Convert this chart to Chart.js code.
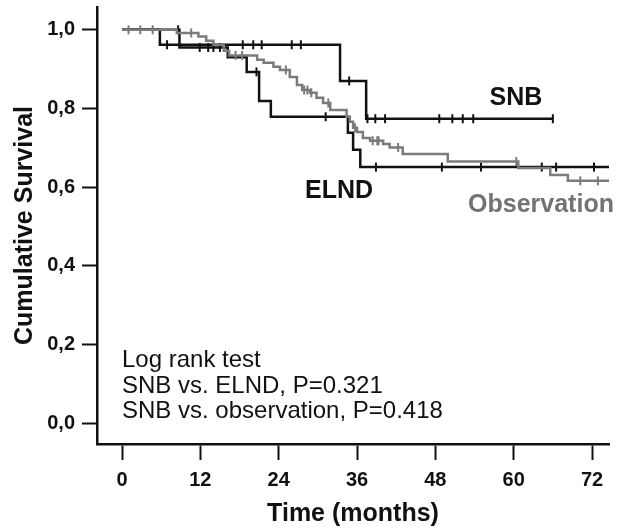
<!DOCTYPE html>
<html>
<head>
<meta charset="utf-8">
<script src="https://cdn.jsdelivr.net/npm/chart.js@4.4.0/dist/chart.umd.min.js"></script>
<style>
  body { margin: 0; background: #fff; }
  #wrap { width: 618px; height: 530px; }
</style>
</head>
<body>
<div id="wrap"><canvas id="mycanvas" width="618" height="530"></canvas></div>
<script>
// step curves: time (months) where survival drops, survival after the drop
var snbTimes = [0, 5.8, 33.4, 37.4, 66.0];
var snbSurv  = [1.0, 0.962, 0.870, 0.774, 0.774];
var snbCensored = [6.9, 18.5, 20.1, 21.4, 26.0, 27.4, 34.8, 37.6, 38.8, 40.3, 48.6, 50.6, 52.2, 53.8, 66.0];

var elndTimes = [0, 8.8, 16.2, 19.1, 21.0, 22.8, 34.6, 35.4, 36.5, 74.6];
var elndSurv  = [1.0, 0.955, 0.930, 0.893, 0.819, 0.779, 0.738, 0.695, 0.651, 0.651];
var elndCensored = [8.6, 11.9, 13.2, 14.0, 15.0, 20.6, 31.2, 38.9, 49.0, 55.0, 64.3, 66.5, 72.3];

var obsTimes = [0, 8.4, 11.7, 12.9, 14.0, 15.6, 16.4, 20.7, 21.7, 23.2, 24.2, 25.7, 26.8, 27.6, 28.8, 29.8, 30.8, 31.9,
                34.4, 34.9, 35.4, 36.0, 36.9, 38.0, 40.0, 41.0, 43.0, 49.9, 60.7, 65.6, 68.3, 74.6];
var obsSurv  = [1.0, 0.992, 0.983, 0.972, 0.962, 0.947, 0.935, 0.924, 0.916, 0.906, 0.898, 0.880, 0.860, 0.847, 0.840, 0.827, 0.814, 0.796,
                0.779, 0.766, 0.751, 0.740, 0.725, 0.718, 0.710, 0.701, 0.684, 0.665, 0.649, 0.631, 0.616, 0.616];
var obsCensored = [1.0, 2.8, 4.7, 10.6, 17.4, 18.4, 25.1, 27.9, 28.4, 29.0, 31.6, 35.7, 38.4, 39.1, 39.3, 42.3, 60.4, 70.2, 72.9];

var xTicks = [0, 12, 24, 36, 48, 60, 72];
var yTicks = [0, 0.2, 0.4, 0.6, 0.8, 1.0];
var yTickLabels = ["0,0", "0,2", "0,4", "0,6", "0,8", "1,0"];

var black = '#111111';
var grey = '#7b7b7b';

function curve(times, surv) {
    var pts = [];
    for (var i in times) pts.push({x: times[i], y: surv[i]});
    return pts;
}
function survAt(times, surv, t) {
    var s = surv[0];
    for (var i = 0; i < times.length; i++) {
        if (times[i] <= t) s = surv[i];
    }
    return s;
}
function marks(censored, times, surv) {
    var pts = [];
    for (var i in censored) pts.push({x: censored[i], y: survAt(times, surv, censored[i])});
    return pts;
}

function stepSet(label, times, surv, color) {
    return {
        label: label, data: curve(times, surv), stepped: 'before',
        borderColor: color, borderWidth: 2.5, pointRadius: 0, fill: false
    };
}
function markSet(label, censored, times, surv, color) {
    return {
        label: label, data: marks(censored, times, surv), showLine: false,
        pointStyle: 'line', rotation: 90, pointRadius: 4.5,
        borderColor: color, pointBorderWidth: 2, pointBackgroundColor: color
    };
}

var labelsPlugin = {
    id: 'labels',
    afterDraw: function(chart) {
        var ctx = chart.ctx;
        ctx.save();
        ctx.textBaseline = 'alphabetic';
        ctx.font = 'bold 25px "Liberation Sans", Arial, sans-serif';
        ctx.textAlign = 'center';
        ctx.fillStyle = black;
        ctx.fillText('SNB', 516, 105);
        ctx.fillText('ELND', 339, 198);
        ctx.fillStyle = '#737373';
        ctx.fillText('Observation', 541, 212);
        ctx.textAlign = 'left';
        ctx.fillStyle = black;
        ctx.font = '24px "Liberation Sans", Arial, sans-serif';
        ctx.fillText('Log rank test', 122, 367);
        ctx.fillText('SNB vs. ELND, P=0.321', 122, 393);
        ctx.fillText('SNB vs. observation, P=0.418', 122, 418);
        ctx.restore();
    }
};

var ctx = document.getElementById('mycanvas');
var chart = new Chart(ctx, {
    type: 'line',
    data: {
        datasets: [
            stepSet('Observation', obsTimes, obsSurv, grey),
            markSet('Observation censored', obsCensored, obsTimes, obsSurv, grey),
            stepSet('ELND', elndTimes, elndSurv, black),
            markSet('ELND censored', elndCensored, elndTimes, elndSurv, black),
            stepSet('SNB', snbTimes, snbSurv, black),
            markSet('SNB censored', snbCensored, snbTimes, snbSurv, black)
        ]
    },
    options: {
        responsive: false,
        animation: false,
        layout: { padding: { left: 0, right: 9, top: 7, bottom: 0 } },
        plugins: { legend: { display: false }, tooltip: { enabled: false } },
        scales: {
            x: {
                type: 'linear', min: -3.83, max: 74.6,
                afterBuildTicks: function(scale) {
                    scale.ticks = xTicks.map(function(v) { return {value: v}; });
                },
                afterFit: function(scale) {
                    scale.height = 86;
                    scale.paddingLeft = 0; scale.paddingRight = 0;
                },
                ticks: {
                    color: black, padding: 8, maxRotation: 0,
                    font: { family: '"Liberation Sans", Arial, sans-serif', size: 20, weight: 'bold' }
                },
                grid: { drawOnChartArea: false, drawTicks: true, tickLength: 16, tickColor: black, tickWidth: 2 },
                border: { display: true, color: black, width: 2.5 },
                title: {
                    display: true, text: 'Time (months)', color: black,
                    padding: { top: 0, bottom: 1 },
                    font: { family: '"Liberation Sans", Arial, sans-serif', size: 25, weight: 'bold' }
                }
            },
            y: {
                type: 'linear', min: -0.053, max: 1.058,
                afterBuildTicks: function(scale) {
                    scale.ticks = yTicks.map(function(v) { return {value: v}; });
                },
                afterFit: function(scale) {
                    scale.width = 97;
                    scale.paddingTop = 0; scale.paddingBottom = 0;
                },
                ticks: {
                    color: black, padding: 7,
                    callback: function(value) {
                        var i = yTicks.indexOf(value);
                        return i >= 0 ? yTickLabels[i] : '';
                    },
                    font: { family: '"Liberation Sans", Arial, sans-serif', size: 20, weight: 'bold' }
                },
                grid: { drawOnChartArea: false, drawTicks: true, tickLength: 15, tickColor: black, tickWidth: 2 },
                border: { display: true, color: black, width: 2.5 },
                title: {
                    display: true, text: 'Cumulative Survival', color: black,
                    padding: { top: 10, bottom: 0 },
                    font: { family: '"Liberation Sans", Arial, sans-serif', size: 25, weight: 'bold' }
                }
            }
        }
    },
    plugins: [labelsPlugin]
});
</script>
</body>
</html>
